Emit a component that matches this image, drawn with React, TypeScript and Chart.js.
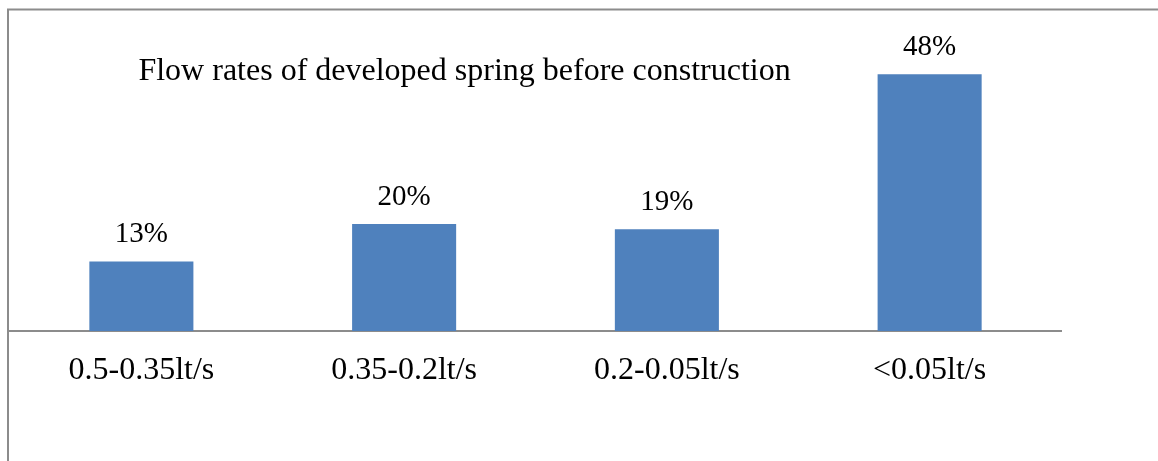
import React, { useEffect, useRef } from "react";
import { Chart, registerables } from "chart.js";

Chart.register(...registerables);

const categories = ["0.5-0.35lt/s", "0.35-0.2lt/s", "0.2-0.05lt/s", "<0.05lt/s"];
const values = [13, 20, 19, 48];
const valueLabels = ["13%", "20%", "19%", "48%"];
const chartTitle = "Flow rates of developed spring before construction";

const FONT = "'Liberation Serif', 'Times New Roman', serif";

const framePlugin = {
  id: "frame",
  beforeDraw(chart: any) {
    const ctx = chart.ctx;
    ctx.save();
    ctx.strokeStyle = "#8c8c8c";
    ctx.lineWidth = 2;
    ctx.beginPath();
    ctx.moveTo(8, chart.height);
    ctx.lineTo(8, 9.5);
    ctx.lineTo(chart.width, 9.5);
    ctx.stroke();
    ctx.restore();
  },
};

const labelPlugin = {
  id: "valueLabels",
  afterDatasetsDraw(chart: any) {
    const ctx = chart.ctx;
    const meta = chart.getDatasetMeta(0);
    ctx.save();
    ctx.fillStyle = "#000";
    ctx.font = `29px ${FONT}`;
    ctx.textAlign = "center";
    ctx.textBaseline = "alphabetic";
    meta.data.forEach((bar: any, i: number) => {
      ctx.fillText(valueLabels[i], bar.x, bar.y - 19);
    });
    // title
    const area = chart.chartArea;
    ctx.font = `32px ${FONT}`;
    ctx.fillText(chartTitle, area.left + (area.right - area.left) * 0.4325, 80);
    ctx.restore();
  },
};

export default function App() {
  const ref = useRef<HTMLCanvasElement>(null);
  useEffect(() => {
    if (!ref.current) return;
    const chart = new Chart(ref.current, {
      type: "bar",
      data: {
        labels: categories,
        datasets: [
          {
            data: values,
            backgroundColor: "#4f81bd",
            borderWidth: 0,
            barPercentage: 0.396,
            categoryPercentage: 1,
          },
        ],
      },
      options: {
        animation: false,
        responsive: false,
        maintainAspectRatio: false,
        layout: { padding: { left: 10, right: 97, top: 10, bottom: 0 } },
        plugins: {
          legend: { display: false },
          tooltip: { enabled: false },
          title: { display: false },
        },
        scales: {
          x: {
            grid: { display: false, drawTicks: false },
            border: { display: true, color: "#8c8c8c", width: 2 },
            ticks: {
              color: "#000",
              font: { family: FONT, size: 32 },
              padding: 20,
              maxRotation: 0,
              autoSkip: false,
            },
            afterFit: (s: any) => {
              s.height = 130;
            },
          },
          y: {
            display: false,
            min: 0,
            max: 60,
          },
        },
      },
      plugins: [framePlugin, labelPlugin],
    });
    return () => chart.destroy();
  }, []);
  return (
    <div style={{ position: "absolute", left: 0, top: 0, width: 1158, height: 461 }}>
      <canvas ref={ref} width={1158} height={461} style={{ display: "block" }} />
    </div>
  );
}
